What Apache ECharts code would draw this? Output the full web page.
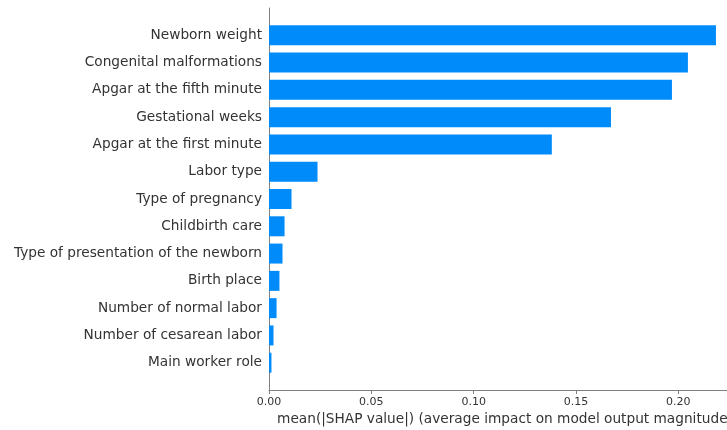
<!DOCTYPE html>
<html>
<head>
<meta charset="utf-8">
<script src="https://cdn.jsdelivr.net/npm/echarts@6/dist/echarts.min.js"></script>
<style>
  html, body { margin: 0; padding: 0; background: #fff; }
  #chart { width: 727px; height: 430px; }
</style>
</head>
<body>
<div id="chart"></div>
<script>
// features, top to bottom as in the picture
var features = [
  'Newborn weight',
  'Congenital malformations',
  'Apgar at the fifth minute',
  'Gestational weeks',
  'Apgar at the first minute',
  'Labor type',
  'Type of pregnancy',
  'Childbirth care',
  'Type of presentation of the newborn',
  'Birth place',
  'Number of normal labor',
  'Number of cesarean labor',
  'Main worker role'
];
var meanShap = [0.2184, 0.2047, 0.1969, 0.1671, 0.1382, 0.0237, 0.0110, 0.0076, 0.0066, 0.0051, 0.0037, 0.0022, 0.0012];
var xTicks = [0, 0.05, 0.10, 0.15, 0.20];

// category axis runs bottom-up; pad one empty slot each end (ylim -1 .. n)
var cats = [''].concat(features.slice().reverse()).concat(['']);
var vals = ['-'].concat(meanShap.slice().reverse()).concat(['-']);

var chart = echarts.init(document.getElementById('chart'));
var font = 'DejaVu Sans';

var option = {
  animation: false,
  grid: { left: 269, right: 0, top: 8, bottom: 40, containLabel: false, outerBoundsMode: 'none' },
  xAxis: {
    type: 'value',
    min: xTicks[0],
    max: 0.2238,
    interval: 0.05,
    name: 'mean(|SHAP value|) (average impact on model output magnitude)',
    nameLocation: 'middle',
    nameGap: 22,
    nameTextStyle: { fontFamily: font, fontSize: 13.7, color: '#333', padding: [0, 0, 0, 14] },
    axisLine: { show: true, lineStyle: { color: '#808080', width: 1 } },
    axisTick: { show: true, length: 4, lineStyle: { color: '#808080' } },
    axisLabel: {
      fontFamily: font, fontSize: 11, color: '#333', margin: 7,
      showMaxLabel: false,
      formatter: function (v) { return v.toFixed(2); }
    },
    splitLine: { show: false }
  },
  yAxis: {
    type: 'category',
    data: cats,
    boundaryGap: false,
    axisLine: { show: true, lineStyle: { color: '#808080', width: 1 } },
    axisTick: { show: false },
    axisLabel: { fontFamily: font, fontSize: 13.7, color: '#333', margin: 7, interval: 0 },
    splitLine: { show: false }
  },
  series: [{
    type: 'bar',
    data: vals,
    barWidth: 20,
    itemStyle: { color: '#008bfb' }
  }]
};
chart.setOption(option);
</script>
</body>
</html>
